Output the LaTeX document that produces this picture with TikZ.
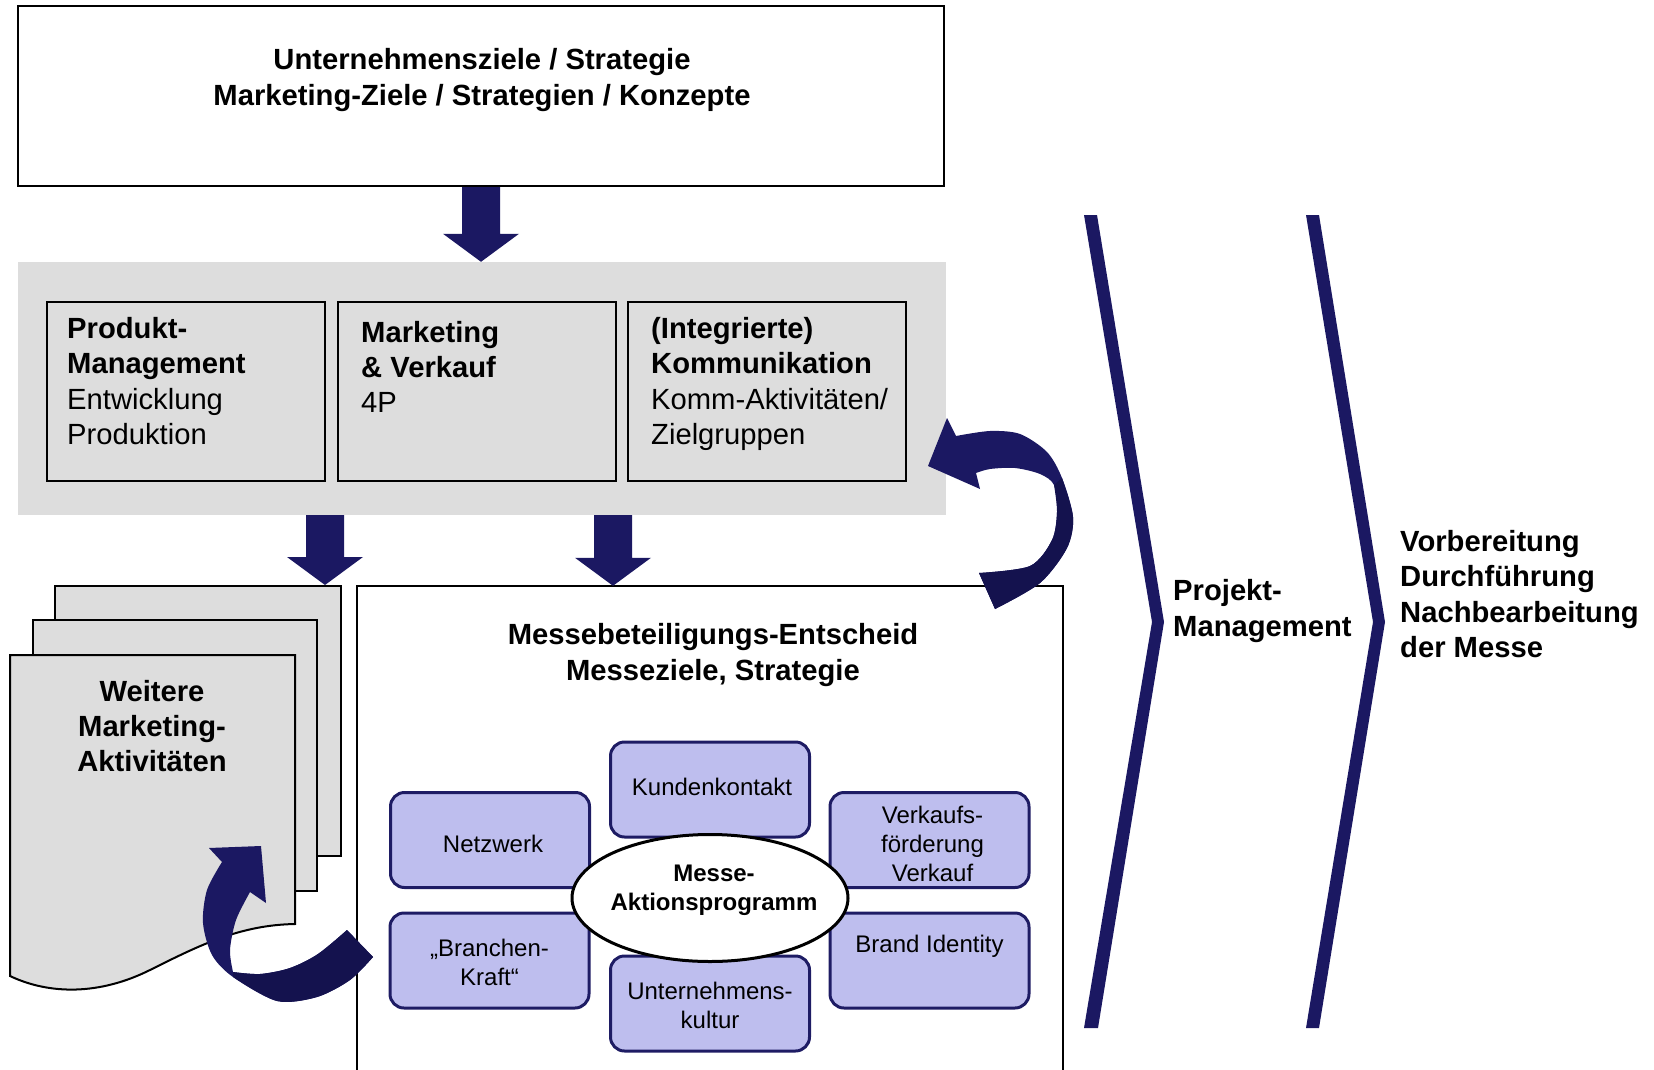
\documentclass[tikz,border=0pt]{standalone}
\usepackage{fontspec}
\setmainfont{Liberation Sans}
\usetikzlibrary{calc,shapes.geometric}

\definecolor{navy}{RGB}{27,24,98}
\definecolor{navydark}{RGB}{20,18,78}
\definecolor{bandgrey}{RGB}{221,221,221}
\definecolor{lilac}{RGB}{190,190,238}
\definecolor{lilacline}{RGB}{30,28,100}

\newcommand{\txtbig}{\fontsize{29.2}{35.3}\selectfont}
\newcommand{\txtsmall}{\fontsize{24}{29}\selectfont}

% straight block arrow pointing down: #1 = start of shaft, #2 = tip
\newcommand{\blockdown}[2]{%
  \fill[navy] ($(#1)+(-19,0)$) -- ($(#2)+(-19,-28)$) -- ($(#2)+(-38,-28)$) -- (#2)
    -- ($(#2)+(38,-28)$) -- ($(#2)+(19,-28)$) -- ($(#1)+(19,0)$) -- cycle;}

\tikzset{
  frame/.style={draw=black, line width=2pt, inner sep=0pt},
  page/.style={draw=black, fill=bandgrey, line width=2pt, inner sep=0pt},
  lilacbox/.style={draw=lilacline, fill=lilac, line width=3pt, rounded corners=14pt,
    minimum width=199pt, minimum height=95pt, inner sep=0pt},
  boxlabel/.style={inner sep=0pt, align=center, font=\txtsmall},
  bigtext/.style={inner sep=0pt, font=\txtbig},
  chevron/.style={fill=navy},
}

\begin{document}
\begin{tikzpicture}[x=1pt,y=-1pt]
\useasboundingbox (0,0) rectangle (1654,1070);
\clip (0,0) rectangle (1654,1070);

% top frame
\node[frame, minimum width=926pt, minimum height=180pt] (top) at (481,96) {};
\node[bigtext, align=center, font=\txtbig\bfseries] (toptxt) at (482,80)
  {Unternehmensziele / Strategie\\Marketing-Ziele / Strategien / Konzepte};

% grey band with the three areas
\node[fill=bandgrey, inner sep=0pt, minimum width=928pt, minimum height=253pt] (band) at (482,388.5) {};
\node[frame, minimum width=278pt, minimum height=179pt] (b1) at (186,391.5) {};
\node[frame, minimum width=278pt, minimum height=179pt] (b2) at (477,391.5) {};
\node[frame, minimum width=278pt, minimum height=179pt] (b3) at (767,391.5) {};
\node[bigtext, anchor=west, align=left] (b1txt) at (67,381)
  {\textbf{Produkt-}\\\textbf{Management}\\Entwicklung\\Produktion};
\node[bigtext, anchor=west, align=left] (b2txt) at (361,367)
  {\textbf{Marketing}\\\textbf{\& Verkauf}\\4P};
\node[bigtext, anchor=west, align=left] (b3txt) at (651,384)
  {\textbf{(Integrierte)}\\\textbf{Kommunikation}\\Komm-Aktivitäten/\\Zielgruppen};

% stack of pages
\node[page, minimum width=286pt, minimum height=270pt] (pg3) at (198,721) {};
\node[page, minimum width=284pt, minimum height=271pt] (pg2) at (175,755.5) {};
\draw[page] (10,655) -- (295,655) -- (295,924)
  .. controls (240,925) and (200,945) .. (150,970)
  .. controls (100,995) and (50,995) .. (10,976) -- cycle;
\node[bigtext, align=center, font=\txtbig\bfseries] (weitere) at (152,726)
  {Weitere\\Marketing-\\Aktivitäten};

% main frame (open at the bottom)
\node[inner sep=0pt, minimum width=706pt, minimum height=494pt] (main) at (710,833) {};
\draw[line width=2pt] (main.south west) -- (main.north west) -- (main.north east) -- (main.south east);
\node[bigtext, align=center, font=\txtbig\bfseries] (maintxt) at (713,655)
  {Messebeteiligungs-Entscheid\\Messeziele, Strategie};

% action programme
\node[lilacbox] (netz)   at (490,840)     {};
\node[lilacbox] (kunde)  at (710,789.5)   {};
\node[lilacbox] (vkf)    at (929.5,840)   {};
\node[lilacbox] (kraft)  at (489.5,960.5) {};
\node[lilacbox] (kultur) at (710,1003.5)  {};
\node[lilacbox] (brand)  at (929.5,960.5) {};
\node[boxlabel] (netztxt)   at ($(netz)+(3,4)$)      {Netzwerk};
\node[boxlabel] (kundetxt)  at ($(kunde)+(2,-3)$)    {Kundenkontakt};
\node[boxlabel] (vkftxt)    at ($(vkf)+(3,4)$)       {Verkaufs-\\förderung\\Verkauf};
\node[boxlabel] (krafttxt)  at ($(kraft)+(0,2)$)     {„Branchen-\\Kraft“};
\node[boxlabel] (kulturtxt) at ($(kultur)+(0,1.5)$)  {Unternehmens-\\kultur};
\node[boxlabel] (brandtxt)  at ($(brand)+(0,-14.5)$) {Brand Identity};
\node[ellipse, draw=black, fill=white, line width=3pt, inner sep=0pt,
      minimum width=276pt, minimum height=127pt] (prog) at (710,898) {};
\node[inner sep=0pt, align=center, font=\txtsmall\bfseries] (progtxt) at (714,890)
  {Messe-\\Aktionsprogramm};

% straight block arrows
\coordinate (xL) at (325,0);
\coordinate (xR) at (613,0);
\coordinate (a0s) at (top.south);
\coordinate (a0e) at (band.north -| top.south);
\coordinate (a1s) at (band.south -| xL);
\coordinate (a1e) at (pg3.north -| xL);
\coordinate (a2s) at (band.south -| xR);
\coordinate (a2e) at (main.north -| xR);
\blockdown{a0s}{a0e}
\blockdown{a1s}{a1e}
\blockdown{a2s}{a2e}

% curved arrow back to the communication area
\fill[navy] plot[smooth] coordinates {(956,436) (990,431) (1020,434) (1047,452) (1062,478) (1073,517) (1067,548) (1040,583) (995,609)}
  -- plot[smooth] coordinates {(979,573) (1030,566) (1052,540) (1057,512) (1054,485) (1040,474) (1015,468) (990,469) (976,473)}
  -- (980,489) -- (928,466) -- (947,418) -- cycle;
\fill[navydark] plot[smooth] coordinates {(1062,478) (1073,517) (1067,548) (1040,583) (995,609)}
  -- plot[smooth] coordinates {(979,573) (1030,566) (1052,540) (1057,512) (1054,485)} -- cycle;

% curved arrow into the further marketing activities
\fill[navy] plot[smooth] coordinates {(222,862) (207,890) (203,923) (212,955) (233,977) (277,1001) (317,997) (350,980) (373,957)}
  -- plot[smooth] coordinates {(347,930) (318,954) (290,968) (260,974) (233,972)}
  -- plot[smooth] coordinates {(233,972) (230,950) (236,920) (250,892)}
  -- (266,903) -- (261,846) -- (209,848) -- cycle;
\fill[navydark] plot[smooth] coordinates {(233,977) (277,1001) (317,997) (350,980) (373,957)}
  -- plot[smooth] coordinates {(347,930) (318,954) (290,968) (260,974) (233,972)} -- cycle;

% chevrons
\fill[chevron] (1084,215) -- (1097,215) -- (1164,622) -- (1098,1028) -- (1084,1028) -- (1152,622) -- cycle;
\fill[chevron] (1306,215) -- (1319,215) -- (1385,622) -- (1319,1028) -- (1306,1028) -- (1373,622) -- cycle;
\node[bigtext, anchor=west, align=left, font=\txtbig\bfseries] (pm) at (1173,611)
  {Projekt-\\Management};
\node[bigtext, anchor=west, align=left, font=\txtbig\bfseries] (phasen) at (1400,594)
  {Vorbereitung\\Durchführung\\Nachbearbeitung\\der Messe};
\end{tikzpicture}
\end{document}
